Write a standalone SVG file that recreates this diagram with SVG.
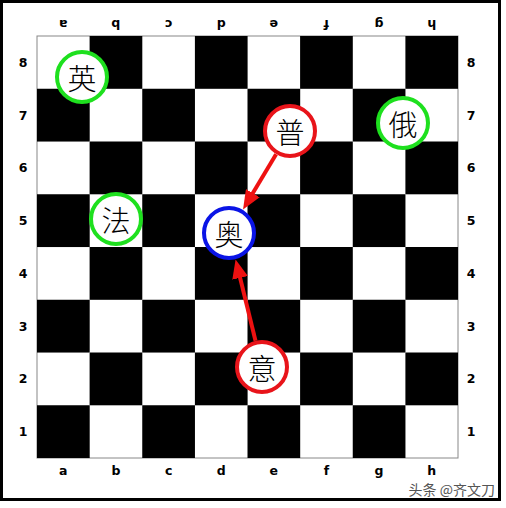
<svg xmlns="http://www.w3.org/2000/svg" width="506" height="508" viewBox="0 0 506 508">
<style>
.sq{fill:#000}
.lbl{font-family:"DejaVu Sans","Liberation Sans",sans-serif;font-size:12.5px;font-weight:bold;fill:#000;text-anchor:middle;dominant-baseline:central}
.pc{fill:#fff;stroke-width:4}
.g{stroke:#1ee01e}
.r{stroke:#e8141a}
.b{stroke:#0a14e6}
.ch{font-family:"Noto Sans CJK SC",sans-serif;font-size:29px;font-weight:300;fill:#000;text-anchor:middle;dominant-baseline:central}
.arr{stroke:#ee1111;stroke-width:4;fill:none;marker-end:url(#ah)}
</style>
<defs>
<marker id="ah" markerUnits="userSpaceOnUse" markerWidth="19" markerHeight="16" refX="8" refY="8" orient="auto" viewBox="0 0 19 16">
<path d="M0,0 L19,8 L0,16 z" fill="#ee1111"/>
</marker>
</defs>
<rect x="0" y="0" width="506" height="508" fill="#fff"/>
<rect x="1.5" y="1.5" width="498" height="498" fill="#fff" stroke="#000" stroke-width="3"/>
<g id="board">
<rect x="37" y="36" width="421" height="422" fill="#fff" stroke="#888" stroke-width="1"/>
<rect class="sq" x="89.6" y="36" width="52.7" height="52.8"/>
<rect class="sq" x="194.9" y="36" width="52.7" height="52.8"/>
<rect class="sq" x="300.1" y="36" width="52.7" height="52.8"/>
<rect class="sq" x="405.4" y="36" width="52.6" height="52.8"/>
<rect class="sq" x="37" y="88.75" width="52.7" height="52.8"/>
<rect class="sq" x="142.25" y="88.75" width="52.7" height="52.8"/>
<rect class="sq" x="247.5" y="88.75" width="52.7" height="52.8"/>
<rect class="sq" x="352.75" y="88.75" width="52.7" height="52.8"/>
<rect class="sq" x="89.6" y="141.5" width="52.7" height="52.8"/>
<rect class="sq" x="194.9" y="141.5" width="52.7" height="52.8"/>
<rect class="sq" x="300.1" y="141.5" width="52.7" height="52.8"/>
<rect class="sq" x="405.4" y="141.5" width="52.6" height="52.8"/>
<rect class="sq" x="37" y="194.25" width="52.7" height="52.8"/>
<rect class="sq" x="142.25" y="194.25" width="52.7" height="52.8"/>
<rect class="sq" x="247.5" y="194.25" width="52.7" height="52.8"/>
<rect class="sq" x="352.75" y="194.25" width="52.7" height="52.8"/>
<rect class="sq" x="89.6" y="247" width="52.7" height="52.8"/>
<rect class="sq" x="194.9" y="247" width="52.7" height="52.8"/>
<rect class="sq" x="300.1" y="247" width="52.7" height="52.8"/>
<rect class="sq" x="405.4" y="247" width="52.6" height="52.8"/>
<rect class="sq" x="37" y="299.75" width="52.7" height="52.8"/>
<rect class="sq" x="142.25" y="299.75" width="52.7" height="52.8"/>
<rect class="sq" x="247.5" y="299.75" width="52.7" height="52.8"/>
<rect class="sq" x="352.75" y="299.75" width="52.7" height="52.8"/>
<rect class="sq" x="89.6" y="352.5" width="52.7" height="52.8"/>
<rect class="sq" x="194.9" y="352.5" width="52.7" height="52.8"/>
<rect class="sq" x="300.1" y="352.5" width="52.7" height="52.8"/>
<rect class="sq" x="405.4" y="352.5" width="52.6" height="52.8"/>
<rect class="sq" x="37" y="405.25" width="52.7" height="52.75"/>
<rect class="sq" x="142.25" y="405.25" width="52.7" height="52.75"/>
<rect class="sq" x="247.5" y="405.25" width="52.7" height="52.75"/>
<rect class="sq" x="352.75" y="405.25" width="52.7" height="52.75"/>
</g>
<g id="labels">
<text class="lbl" x="23" y="62.4">8</text>
<text class="lbl" x="23" y="115.1">7</text>
<text class="lbl" x="23" y="167.9">6</text>
<text class="lbl" x="23" y="220.6">5</text>
<text class="lbl" x="23" y="273.4">4</text>
<text class="lbl" x="23" y="326.1">3</text>
<text class="lbl" x="23" y="378.9">2</text>
<text class="lbl" x="23" y="431.6">1</text>
<text class="lbl" x="471" y="62.4">8</text>
<text class="lbl" x="471" y="115.1">7</text>
<text class="lbl" x="471" y="167.9">6</text>
<text class="lbl" x="471" y="220.6">5</text>
<text class="lbl" x="471" y="273.4">4</text>
<text class="lbl" x="471" y="326.1">3</text>
<text class="lbl" x="471" y="378.9">2</text>
<text class="lbl" x="471" y="431.6">1</text>
<text class="lbl" x="63.3" y="470">a</text>
<text class="lbl" x="115.9" y="470">b</text>
<text class="lbl" x="168.6" y="470">c</text>
<text class="lbl" x="221.2" y="470">d</text>
<text class="lbl" x="273.8" y="470">e</text>
<text class="lbl" x="326.4" y="470">f</text>
<text class="lbl" x="379.1" y="470">g</text>
<text class="lbl" x="431.7" y="470">h</text>
<text class="lbl" transform="translate(63.3,24) rotate(180)">a</text>
<text class="lbl" transform="translate(115.9,24) rotate(180)">b</text>
<text class="lbl" transform="translate(168.6,24) rotate(180)">c</text>
<text class="lbl" transform="translate(221.2,24) rotate(180)">d</text>
<text class="lbl" transform="translate(273.8,24) rotate(180)">e</text>
<text class="lbl" transform="translate(326.4,24) rotate(180)">f</text>
<text class="lbl" transform="translate(379.1,24) rotate(180)">g</text>
<text class="lbl" transform="translate(431.7,24) rotate(180)">h</text>
</g>
<g id="connectors">
<line class="arr" x1="276.1" y1="154.2" x2="248.7" y2="200"/>
<line class="arr" x1="255.5" y1="340.8" x2="238.2" y2="270.1"/>
</g>
<g id="ying"><circle class="pc g" cx="82" cy="77" r="25"/><text class="ch" x="82" y="77">英</text></g>
<g id="pu"><circle class="pc r" cx="290" cy="131" r="25"/><text class="ch" x="290" y="131">普</text></g>
<g id="e"><circle class="pc g" cx="403" cy="123" r="25"/><text class="ch" x="403" y="123">俄</text></g>
<g id="fa"><circle class="pc g" cx="116" cy="219" r="25"/><text class="ch" x="116" y="219">法</text></g>
<g id="ao"><circle class="pc b" cx="229" cy="233" r="25"/><text class="ch" x="229" y="233">奥</text></g>
<g id="yi"><circle class="pc r" cx="262" cy="367" r="25"/><text class="ch" x="262" y="367">意</text></g>
<text x="495" y="495" font-family="Noto Sans CJK SC, sans-serif" font-size="14" fill="#555" text-anchor="end">头条 @齐文刀</text>
</svg>
